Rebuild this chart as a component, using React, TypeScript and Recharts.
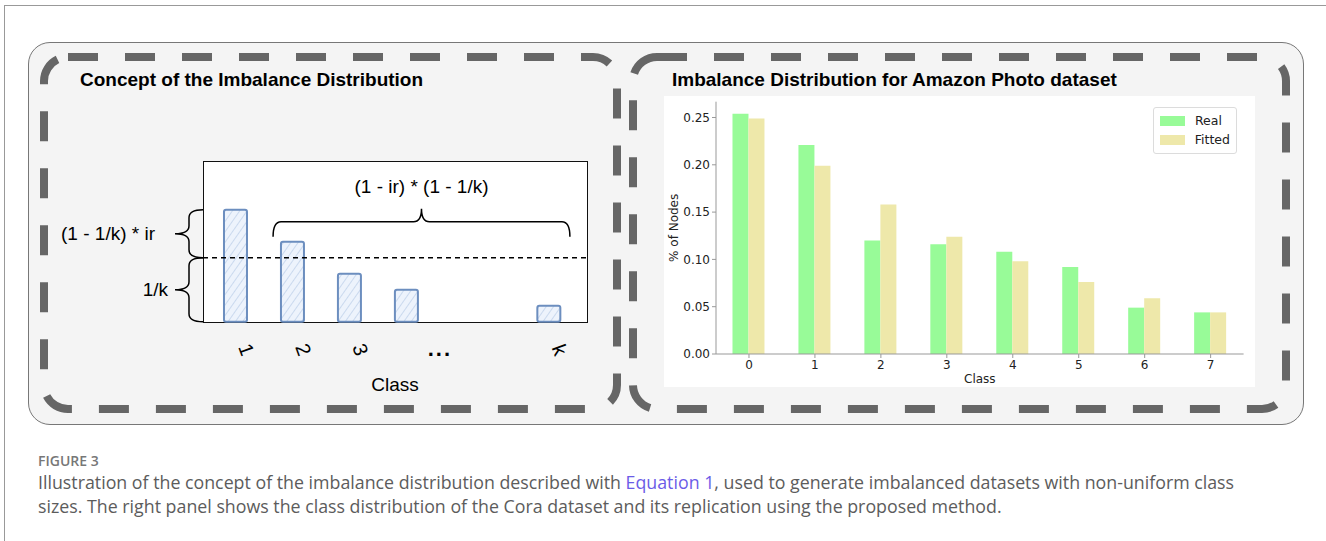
import React from 'react'
import { Bar, BarChart, Legend, ReferenceLine, XAxis, YAxis } from 'recharts'

// left panel: the hand drawn concept
const conceptPositions = [1, 2, 3, 4, 6.5]
const conceptHeights = [7, 5, 3, 2, 1]
const uniformShare = 4 // level of 1/k
const conceptTicks = [1, 2, 3, 4.5, 6.5]
const conceptTickLabels = ['1', '2', '3', '...', 'k']

// right panel: Amazon Photo class distribution
const classes = ['0', '1', '2', '3', '4', '5', '6', '7']
const realShare = [0.254, 0.221, 0.12, 0.116, 0.108, 0.092, 0.049, 0.044]
const fittedShare = [0.249, 0.199, 0.158, 0.124, 0.098, 0.076, 0.059, 0.044]
const shareTicks = [0, 0.05, 0.1, 0.15, 0.2, 0.25]
const seriesNames = ['Real', 'Fitted']

const conceptData = conceptPositions.map((pos, i) => ({ pos, height: conceptHeights[i] }))
const shareData = classes.map((c, i) => ({ cls: c, real: realShare[i], fitted: fittedShare[i] }))

const ARIAL = '"Liberation Sans", Arial, sans-serif'
const DEJAVU = '"DejaVu Sans", sans-serif'
const SKETCH_BLUE = '#6c8ebf'

const SketchBar = (props: any) => {
  const { x, y, width, height } = props
  return (
    <rect
      x={x}
      y={y}
      width={width}
      height={height}
      rx={2}
      fill="url(#hatch)"
      stroke={SKETCH_BLUE}
      strokeWidth={2}
    />
  )
}

const SketchTick = (props: any) => {
  const { x, y, payload } = props
  const label = conceptTickLabels[conceptTicks.indexOf(payload.value)]
  if (label === '...') {
    return (
      <text x={x + 5} y={y + 26} textAnchor="middle" fontSize={22} fontWeight="bold" fontFamily={ARIAL} letterSpacing={2}>
        ...
      </text>
    )
  }
  return (
    <text
      transform={`translate(${x + 11},${y + 20}) rotate(70)`}
      textAnchor="middle"
      dominantBaseline="central"
      fontSize={20}
      fontFamily={ARIAL}
    >
      {label}
    </text>
  )
}

// curly brace opening to the right, with its label on the left
const leftBrace = (label: string, gap: number) => (p: any) => {
  const x = p.x1
  const top = Math.min(p.y1, p.y2)
  const bottom = Math.max(p.y1, p.y2)
  const mid = (top + bottom) / 2
  const w = 14
  const r = 8
  const d =
    `M${x},${top} Q${x - w},${top} ${x - w},${top + r} L${x - w},${mid - r} ` +
    `Q${x - w},${mid} ${x - 2 * w},${mid} Q${x - w},${mid} ${x - w},${mid + r} ` +
    `L${x - w},${bottom - r} Q${x - w},${bottom} ${x},${bottom}`
  return (
    <g>
      <path d={d} fill="none" stroke="#000" strokeWidth={1.5} />
      <text x={x - 2 * w - gap} y={mid} textAnchor="end" dominantBaseline="central" fontSize={19} fontFamily={ARIAL}>
        {label}
      </text>
    </g>
  )
}

// curly brace opening downwards, label above
const topBrace = (label: string) => (p: any) => {
  const a = Math.min(p.x1, p.x2)
  const b = Math.max(p.x1, p.x2)
  const y = p.y1
  const m = (a + b) / 2
  const drop = 15
  const tip = 13
  const r = 8
  const d =
    `M${a},${y + drop} Q${a},${y} ${a + r},${y} L${m - r},${y} Q${m},${y} ${m},${y - tip} ` +
    `Q${m},${y} ${m + r},${y} L${b - r},${y} Q${b},${y} ${b},${y + drop}`
  return (
    <g>
      <path d={d} fill="none" stroke="#000" strokeWidth={1.5} />
      <text x={m} y={y - 35} textAnchor="middle" dominantBaseline="central" fontSize={19} fontFamily={ARIAL}>
        {label}
      </text>
    </g>
  )
}

const ShareLegend = (props: any) => {
  const items = [...(props.payload || [])].sort(
    (a: any, b: any) => seriesNames.indexOf(a.value) - seriesNames.indexOf(b.value)
  )
  return (
    <div
      style={{
        border: '1px solid #dcdcdc',
        borderRadius: 3,
        background: '#fff',
        padding: '3px 6px 4px 6px',
        fontFamily: DEJAVU,
        fontSize: 12.5,
        color: '#222',
        lineHeight: '19px',
      }}
    >
      {items.map((item: any) => (
        <div key={item.value} style={{ display: 'flex', alignItems: 'center' }}>
          <span style={{ display: 'inline-block', width: 25, height: 10, background: item.color, marginRight: 10 }} />
          {item.value}
        </div>
      ))}
    </div>
  )
}

const dashedRect = (x: number, y: number, w: number, h: number) => (
  <rect x={x} y={y} width={w} height={h} rx={24} fill="none" stroke="#666" strokeWidth={8} strokeDasharray="30 27" />
)

const titleStyle = {
  position: 'absolute' as const,
  top: 69,
  fontFamily: ARIAL,
  fontWeight: 'bold' as const,
  fontSize: 19,
  lineHeight: '22px',
  whiteSpace: 'nowrap' as const,
}

export default function App() {
  return (
    <div style={{ position: 'absolute', left: 0, top: 0, width: 1326, height: 541, background: '#fff', overflow: 'hidden' }}>
      <svg width={0} height={0} style={{ position: 'absolute' }}>
        <defs>
          <pattern id="hatch" patternUnits="userSpaceOnUse" width={6} height={6} patternTransform="rotate(35)">
            <rect width={6} height={6} fill="#edf3fc" />
            <line x1={0} y1={0} x2={0} y2={6} stroke="#b3c8e6" strokeWidth={1.2} />
          </pattern>
        </defs>
      </svg>

      {/* page card edges */}
      <div style={{ position: 'absolute', left: 4, top: 5, right: -10, bottom: -10, borderTop: '1.5px solid #999', borderLeft: '1.5px solid #999' }} />

      {/* figure frame */}
      <div
        style={{
          position: 'absolute',
          left: 28,
          top: 42,
          width: 1276,
          height: 383,
          background: '#f4f4f4',
          border: '1.5px solid #777',
          borderRadius: 22,
          boxSizing: 'border-box',
        }}
      />
      <svg width={1326} height={541} style={{ position: 'absolute', left: 0, top: 0 }}>
        {dashedRect(44, 57, 573, 352)}
        {dashedRect(633, 57, 653, 352)}
      </svg>

      {/* left panel */}
      <div style={{ ...titleStyle, left: 80 }}>Concept of the Imbalance Distribution</div>
      <div style={{ position: 'absolute', left: 202.5, top: 161, width: 385, height: 161.5, background: '#fff', border: '1.5px solid #111', boxSizing: 'border-box' }} />
      <div style={{ position: 'absolute', left: 40, top: 150 }}>
        <BarChart width={560} height={260} data={conceptData} margin={{ top: 11.7, right: 13, bottom: 13.3, left: 163 }}>
          <XAxis
            type="number"
            dataKey="pos"
            domain={[0.43, 7.17]}
            ticks={conceptTicks}
            interval={0}
            axisLine={false}
            tickLine={false}
            height={75}
            tick={<SketchTick />}
            label={{ value: 'Class', position: 'insideBottom', offset: 6, fontSize: 19, fontFamily: ARIAL, fill: '#000' }}
          />
          <YAxis hide domain={[0, 10]} />
          <ReferenceLine y={uniformShare} stroke="#000" strokeWidth={1.5} strokeDasharray="5 4" />
          <ReferenceLine
            ifOverflow="visible"
            segment={[{ x: 0.43, y: conceptHeights[0] }, { x: 0.43, y: uniformShare }]}
            shape={leftBrace('(1 - 1/k) * ir', 20)}
          />
          <ReferenceLine
            ifOverflow="visible"
            segment={[{ x: 0.43, y: uniformShare }, { x: 0.43, y: 0 }]}
            shape={leftBrace('1/k', 7)}
          />
          <ReferenceLine
            ifOverflow="visible"
            segment={[{ x: 1.66, y: 6.25 }, { x: 6.87, y: 6.25 }]}
            shape={topBrace('(1 - ir) * (1 - 1/k)')}
          />
          <Bar dataKey="height" barSize={23} shape={<SketchBar />} isAnimationActive={false} />
        </BarChart>
      </div>

      {/* right panel */}
      <div style={{ ...titleStyle, left: 672 }}>Imbalance Distribution for Amazon Photo dataset</div>
      <div style={{ position: 'absolute', left: 664, top: 96, width: 591, height: 291, background: '#fff' }}>
        <BarChart
          width={591}
          height={291}
          data={shareData}
          margin={{ top: 5.7, right: 11.4, bottom: 0, left: 0 }}
          barCategoryGap="25%"
          barGap={0}
        >
          <XAxis
            dataKey="cls"
            height={33}
            stroke="#999"
            tickSize={4}
            tick={{ fontSize: 12, fontFamily: DEJAVU, fill: '#222' }}
            label={{ value: 'Class', position: 'insideBottom', offset: 4, fontSize: 12, fontFamily: DEJAVU, fill: '#222' }}
          />
          <XAxis xAxisId="top" dataKey="cls" orientation="top" height={0} stroke="#999" tick={false} tickLine={false} />
          <YAxis
            width={52}
            domain={[0, 0.2667]}
            ticks={shareTicks}
            stroke="#999"
            tickSize={4}
            tickFormatter={(v: number) => v.toFixed(2)}
            tick={{ fontSize: 12, fontFamily: DEJAVU, fill: '#222' }}
            label={{
              value: '% of Nodes',
              angle: -90,
              position: 'insideLeft',
              offset: 10,
              fontSize: 12,
              fontFamily: DEJAVU,
              fill: '#222',
              style: { textAnchor: 'middle' },
            }}
          />
          <YAxis yAxisId="right" orientation="right" width={0} domain={[0, 1]} stroke="#999" tick={false} tickLine={false} />
          <Legend
            layout="vertical"
            align="center"
            verticalAlign="middle"
            wrapperStyle={{ top: 11, left: 489, width: 84 }}
            content={<ShareLegend />}
          />
          <Bar dataKey="real" name="Real" fill="#98fb98" isAnimationActive={false} />
          <Bar dataKey="fitted" name="Fitted" fill="#eee8aa" isAnimationActive={false} />
        </BarChart>
      </div>

      {/* caption */}
      <div style={{ position: 'absolute', left: 38, top: 451, fontFamily: '"Open Sans", sans-serif', fontWeight: 600, fontSize: 14, color: '#777', lineHeight: '20px' }}>
        FIGURE 3
      </div>
      <div style={{ position: 'absolute', left: 38, top: 470, fontFamily: '"Open Sans", sans-serif', fontSize: 17.8, color: '#5c5c5c', lineHeight: '24px', whiteSpace: 'nowrap' }}>
        <div>
          Illustration of the concept of the imbalance distribution described with{' '}
          <span style={{ color: '#6b5ce7' }}>Equation 1</span>, used to generate imbalanced datasets with non-uniform class
        </div>
        <div>sizes. The right panel shows the class distribution of the Cora dataset and its replication using the proposed method.</div>
      </div>
    </div>
  )
}
